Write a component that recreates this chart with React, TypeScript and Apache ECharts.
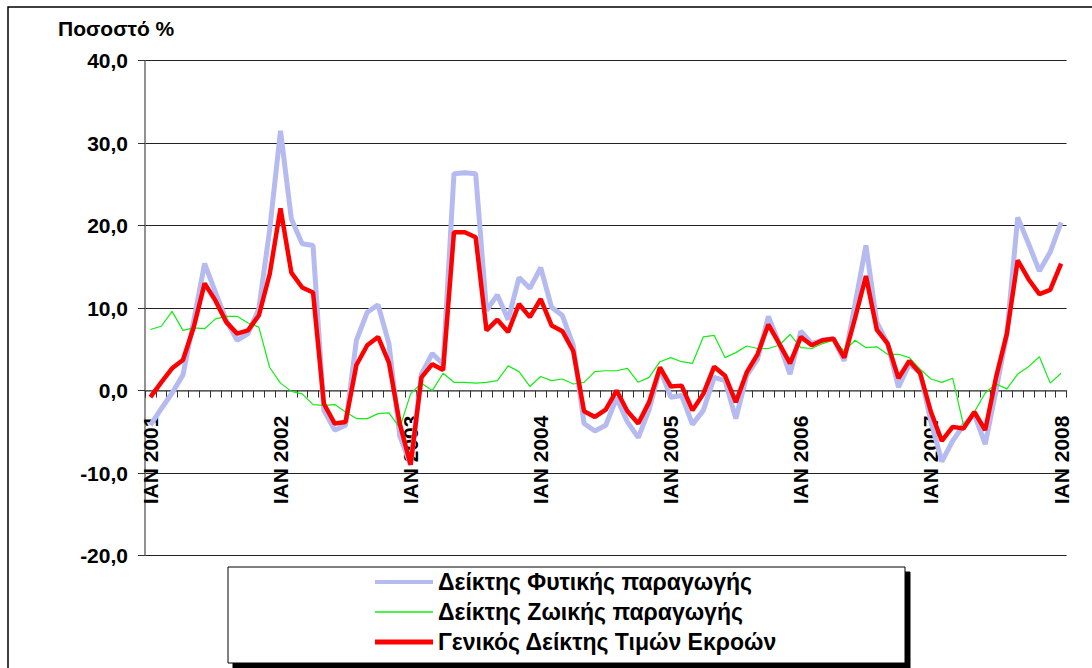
import React, { useEffect, useRef } from "react";
import * as echarts from "echarts";

const months = ["ΙΑΝ", "ΦΕΒ", "ΜΑΡ", "ΑΠΡ", "ΜΑΪ", "ΙΟΥΝ", "ΙΟΥΛ", "ΑΥΓ", "ΣΕΠ", "ΟΚΤ", "ΝΟΕ", "ΔΕΚ"];
const years = [2001, 2002, 2003, 2004, 2005, 2006, 2007, 2008];

const categories: string[] = [];
years.forEach((y) => {
  months.forEach((m, i) => {
    if (y < 2008 || i === 0) categories.push(m + " " + y);
  });
});

const yTicks = [-20, -10, 0, 10, 20, 30, 40];

const plantName = "Δείκτης Φυτικής παραγωγής";
const animalName = "Δείκτης Ζωικής παραγωγής";
const totalName = "Γενικός Δείκτης Τιμών Εκροών";

const plant = [
  -4.2, -2.2, -0.3, 1.9, 8.5, 15.4, 11.9, 8.5, 6.1, 6.9, 9.9, 19.5,
  31.5, 20.8, 17.8, 17.6, -2.4, -4.8, -4.2, 6.1, 9.5, 10.4, 5.7, -5.5,
  -9.0, 2.0, 4.5, 3.2, 26.3, 26.4, 26.3, 9.7, 11.6, 8.6, 13.7, 12.4,
  14.9, 10.1, 9.1, 5.5, -4.0, -4.9, -4.2, -0.9, -3.8, -5.7, -2.3, 2.6,
  -0.8, -0.6, -4.1, -2.4, 1.6, 1.2, -3.4, 1.8, 3.8, 9.0, 5.7, 2.0,
  7.2, 5.7, 6.1, 6.3, 3.6, 10.5, 17.6, 8.3, 5.7, 0.4, 3.2, 2.2,
  -3.8, -8.6, -6.1, -4.2, -2.9, -6.5, 0.0, 6.9, 21.0, 17.8, 14.5, 16.8,
  20.4,
];

const animal = [
  7.4, 7.8, 9.6, 7.3, 7.6, 7.5, 8.7, 9.0, 9.0, 8.2, 7.7, 2.8,
  0.9, -0.1, -0.4, -1.7, -1.8, -1.7, -2.6, -3.4, -3.4, -2.8, -2.7, -4.5,
  -0.4, 0.9, 0.0, 2.1, 1.0, 1.0, 0.9, 1.0, 1.2, 3.0, 2.3, 0.5,
  1.7, 1.2, 1.4, 0.8, 1.0, 2.3, 2.4, 2.4, 2.7, 1.0, 1.6, 3.5,
  4.0, 3.5, 3.3, 6.5, 6.7, 4.0, 4.6, 5.4, 5.1, 5.1, 5.5, 6.8,
  5.2, 5.1, 5.7, 6.1, 4.8, 6.1, 5.2, 5.3, 4.4, 4.4, 4.0, 2.6,
  1.4, 1.0, 1.5, -4.2, -2.6, -0.3, 0.8, 0.2, 2.0, 2.9, 4.1, 0.9,
  2.1,
];

const total = [
  -0.8, 1.0, 2.7, 3.7, 7.7, 13.0, 10.9, 8.3, 6.9, 7.3, 9.1, 14.1,
  22.1, 14.3, 12.5, 11.9, -1.6, -4.0, -3.8, 3.1, 5.5, 6.5, 3.4, -4.0,
  -9.0, 1.6, 3.2, 2.5, 19.2, 19.2, 18.6, 7.3, 8.6, 7.1, 10.5, 8.9,
  11.1, 7.9, 7.2, 4.8, -2.5, -3.2, -2.3, 0.0, -2.5, -4.0, -1.4, 2.8,
  0.5, 0.6, -2.4, -0.4, 2.9, 1.8, -1.4, 2.2, 4.4, 8.0, 5.7, 3.3,
  6.5, 5.5, 6.1, 6.3, 4.0, 8.8, 13.9, 7.4, 5.7, 1.5, 3.6, 2.1,
  -2.6, -6.1, -4.4, -4.6, -2.6, -4.8, 1.6, 6.9, 15.8, 13.5, 11.7, 12.2,
  15.4,
];

const FONT = '"Liberation Sans", Arial, Helvetica, sans-serif';

const GRID_TOP = 60.7;
const GRID_BOTTOM = 112.5;
const PLOT_H = 668 - GRID_TOP - GRID_BOTTOM;
const Y_MIN = -20;
const Y_MAX = 40;
// move the category axis (line, ticks, labels) up to the zero line
const ZERO_OFFSET = -(PLOT_H * (0 - Y_MIN)) / (Y_MAX - Y_MIN);

export default function App() {
  const ref = useRef<HTMLDivElement>(null);
  useEffect(() => {
    if (!ref.current) return;
    const chart = echarts.init(ref.current, null, { renderer: "svg" });
    chart.setOption({
      animation: false,
      backgroundColor: "#ffffff",
      textStyle: { fontFamily: FONT },
      grid: { left: 145, right: 25.5, top: GRID_TOP, bottom: GRID_BOTTOM, containLabel: false },
      graphic: [
        {
          type: "rect",
          shape: { x: 8, y: 7, width: 1200, height: 800 },
          style: { fill: "none", stroke: "#000", lineWidth: 1.5 },
          z: 0,
          silent: true,
        },
        {
          type: "text",
          x: 58,
          y: 18,
          style: {
            text: "Ποσοστό %",
            font: "bold 21px " + FONT,
            fill: "#000",
          },
        },
        {
          type: "rect",
          shape: { x: 228, y: 567, width: 677, height: 96 },
          style: {
            fill: "#fff",
            stroke: "#000",
            lineWidth: 1,
            shadowColor: "#000",
            shadowOffsetX: 5,
            shadowOffsetY: 5,
            shadowBlur: 0,
          },
          z: 5,
        },
      ],
      legend: {
        orient: "vertical",
        left: 375,
        top: 570,
        padding: 0,
        itemWidth: 58,
        itemHeight: 14,
        itemGap: 6,
        z: 10,
        data: [
          { name: plantName, icon: "path://M0,0L58,0L58,4L0,4Z" },
          { name: animalName, icon: "path://M0,0L58,0L58,1.5L0,1.5Z" },
          { name: totalName, icon: "path://M0,0L58,0L58,5L0,5Z" },
        ],
        textStyle: {
          fontFamily: FONT,
          fontWeight: "bold",
          fontSize: 23,
          color: "#000",
          lineHeight: 24,
        },
      },
      xAxis: {
        type: "category",
        data: categories,
        boundaryGap: true,
        offset: ZERO_OFFSET,
        axisLine: { onZero: false, lineStyle: { color: "#6e6e6e", width: 1.5 } },
        axisTick: {
          show: true,
          interval: 0,
          length: 7,
          lineStyle: { color: "#333", width: 1 },
        },
        axisLabel: {
          interval: (index: number) => index % 12 === 0,
          formatter: (v: string) => (v.startsWith("ΙΑΝ") ? v : ""),
          rotate: 90,
          margin: 25,
          fontFamily: FONT,
          fontWeight: "bold",
          fontSize: 21,
          color: "#000",
        },
        splitLine: { show: false },
      },
      yAxis: {
        type: "value",
        min: Y_MIN,
        max: Y_MAX,
        interval: 10,
        axisLine: { show: true, lineStyle: { color: "#6e6e6e", width: 1.5 } },
        axisTick: { show: true, length: 7, lineStyle: { color: "#333" } },
        axisLabel: {
          margin: 17,
          fontFamily: FONT,
          fontWeight: "bold",
          fontSize: 21,
          color: "#000",
          formatter: (v: number) => (yTicks.includes(v) ? v.toFixed(1).replace(".", ",") : ""),
        },
        splitLine: { show: true, lineStyle: { color: "#222", width: 1 } },
      },
      series: [
        {
          name: plantName,
          type: "line",
          data: plant,
          symbol: "none",
          lineStyle: { color: "#b5baf0", width: 5 },
          itemStyle: { color: "#b5baf0" },
          z: 2,
        },
        {
          name: animalName,
          type: "line",
          data: animal,
          symbol: "none",
          lineStyle: { color: "#11ee11", width: 1.2 },
          itemStyle: { color: "#11ee11" },
          z: 3,
        },
        {
          name: totalName,
          type: "line",
          data: total,
          symbol: "none",
          lineStyle: { color: "#ff0000", width: 4.5 },
          itemStyle: { color: "#ff0000" },
          z: 4,
        },
      ],
    });
    return () => chart.dispose();
  }, []);
  return (
    <div
      ref={ref}
      style={{ position: "absolute", left: 0, top: 0, width: 1092, height: 668 }}
    />
  );
}
